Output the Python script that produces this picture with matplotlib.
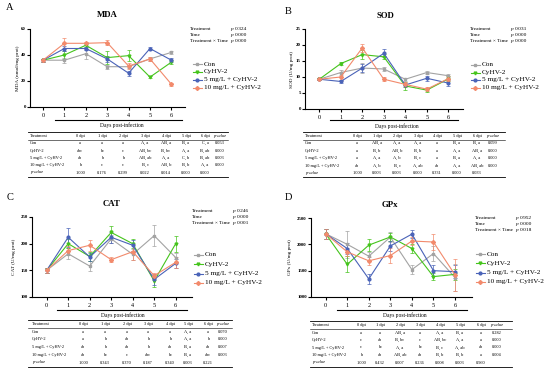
import matplotlib

matplotlib.use("Agg")
import matplotlib.pyplot as plt
from matplotlib.lines import Line2D

plt.rcParams["font.family"] = ["Liberation Serif", "DejaVu Serif"]

W, H = 550, 375

days = [0, 1, 2, 3, 4, 5, 6]
groups = ["Con", "CyHV-2", "5 mg/L + CyHV-2", "10 mg/L + CyHV-2"]

# MDA (nmol/mg prot)
mda_con = [36, 36, 41, 31, 31, 37, 42]
mda_cyhv = [36, 40, 47.5, 38, 39.5, 23, 34.5]
mda_5mg = [36, 45, 45, 37, 26, 45, 36]
mda_10mg = [36, 49, 49, 49.5, 31.5, 37, 17.5]
mda_err_con = [1, 2, 4, 1.5, 1, 1.5, 1]
mda_err_cyhv = [1, 3, 1.5, 5, 4, 1, 1.5]
mda_err_5mg = [1, 2, 1.5, 2, 2, 1.5, 1.5]
mda_err_10mg = [1, 4, 1, 2, 2, 1.5, 1]

# SOD (U/mg prot)
sod_con = [9.3, 11.4, 12.8, 12.5, 9.3, 11.4, 10.4]
sod_cyhv = [9.3, 14.2, 17.0, 16.3, 7.2, 5.9, 9.4]
sod_5mg = [9.3, 8.6, 12.8, 17.4, 7.5, 9.6, 8.1]
sod_10mg = [9.3, 10.0, 19.1, 9.3, 7.7, 6.2, 9.5]
sod_err_con = [0.3, 0.8, 1.5, 0.6, 0.5, 0.6, 0.5]
sod_err_cyhv = [0.3, 0.6, 1.5, 0.8, 1.2, 0.6, 0.8]
sod_err_5mg = [0.3, 0.5, 1.3, 1.2, 0.6, 0.7, 0.9]
sod_err_10mg = [0.3, 1.2, 1.2, 0.6, 0.8, 0.7, 0.8]

# CAT (U/mg prot)
cat_con = [150, 181, 158, 209, 180, 215, 174]
cat_cyhv = [150, 200, 176, 221, 200, 130, 200]
cat_5mg = [150, 212, 175, 212, 197, 133, 163]
cat_10mg = [150, 187, 197, 170, 185, 140, 165]
cat_err_con = [5, 10, 10, 8, 10, 20, 8]
cat_err_cyhv = [5, 8, 8, 12, 8, 12, 15]
cat_err_5mg = [5, 18, 8, 10, 10, 10, 8]
cat_err_10mg = [5, 8, 10, 5, 15, 5, 10]

# GPx (U/mg prot)
gpx_con = [2200, 2000, 1775, 2137, 1520, 1825, 1370]
gpx_cyhv = [2200, 1620, 1985, 2140, 1920, 1387, 1430]
gpx_5mg = [2200, 1920, 1344, 1969, 2194, 1500, 1481]
gpx_10mg = [2200, 1856, 1687, 1787, 2063, 2044, 1420]
gpx_err_con = [100, 250, 80, 100, 80, 150, 250]
gpx_err_cyhv = [100, 150, 120, 80, 80, 60, 100]
gpx_err_5mg = [100, 100, 100, 100, 80, 100, 120]
gpx_err_10mg = [100, 80, 80, 150, 80, 150, 300]

table_header = ["Treatment", "0 dpi", "1 dpi", "2 dpi", "3 dpi", "4 dpi", "5 dpi", "6 dpi", "p value"]

mda_table = [
    ["Con", "a", "a", "a", "A, a", "AB, a", "B, a", "C, a", "0.053"],
    ["CyHV-2", "abc", "bc", "c", "AB, bc", "B, bc", "A, a", "B, ab", "0.000"],
    ["5 mg/L + CyHV-2", "ab", "b", "b", "AB, ab", "A, a", "C, b", "B, ab", "0.003"],
    ["10 mg/L + CyHV-2", "b", "c", "c", "B, c", "AB, b", "B, b", "A, a", "0.000"],
    ["p value", "1.000", "0.176", "0.299", "0.022", "0.014", "0.000", "0.000", ""],
]
sod_table = [
    ["Con", "a", "AB, a", "A, a", "A, a", "a", "B, a", "B, a", "0.099"],
    ["CyHV-2", "a", "B, b", "AB, b", "B, b", "a", "A, a", "AB, a", "0.000"],
    ["5 mg/L + CyHV-2", "a", "A, a", "A, b", "B, c", "a", "B, a", "A, a", "0.000"],
    ["10 mg/L + CyHV-2", "ab", "A, b", "B, c", "A, ab", "ab", "A, a", "AB, ab", "0.000"],
    ["p value", "1.000", "0.003", "0.003", "0.000", "0.331", "0.000", "0.033", ""],
]
cat_table = [
    ["Con", "a", "a", "a", "a", "a", "A, a", "a", "0.070"],
    ["CyHV-2", "a", "b", "ab", "b", "b", "A, a", "b", "0.000"],
    ["5 mg/L + CyHV-2", "ab", "b", "ab", "b", "ab", "B, a", "ab", "0.007"],
    ["10 mg/L + CyHV-2", "ab", "bc", "c", "abc", "bc", "B, a", "abc", "0.003"],
    ["p value", "1.000", "0.343", "0.370", "0.187", "0.340", "0.003", "0.221", ""],
]
gpx_table = [
    ["Con", "a", "a", "AB, a", "a", "A, a", "B, a", "a", "0.282"],
    ["CyHV-2", "c", "ab", "B, bc", "c", "AB, bc", "A, a", "a", "0.000"],
    ["5 mg/L + CyHV-2", "c", "bc", "A, a", "bc", "B, c", "A, ab", "ab", "0.000"],
    ["10 mg/L + CyHV-2", "b", "ab", "AB, ab", "ab", "B, b", "B, b", "a", "0.004"],
    ["p value", "1.000", "0.432", "0.007", "0.236", "0.008", "0.003", "0.960", ""],
]

mda_p = ["0.324", "0.000", "0.000"]
sod_p = ["0.031", "0.000", "0.000"]
cat_p = ["0.246", "0.000", "0.001"]
gpx_p = ["0.952", "0.000", "0.018"]

colors = ["#a3a3a3", "#45c41c", "#4a63b8", "#f28a6c"]
markers = ["s", "v", "o", "D"]

panels = [
    dict(letter="A", title="MDA", ylabel="MDA (nmol/mg prot)",
         values=[mda_con, mda_cyhv, mda_5mg, mda_10mg],
         errors=[mda_err_con, mda_err_cyhv, mda_err_5mg, mda_err_10mg],
         table=mda_table, pvals=mda_p,
         ylim=(0, 60), yticks=[0, 20, 40, 60],
         rect=(30, 185, 29, 107), x0=43, dx=21.4,
         letter_xy=(10, 7), title_xy=(107, 15), ylabel_x=18,
         stats_xy=(190, 29), legend_xy=(197, 64), legend_dy=8,
         days_line=(55, 182, 120), days_xy=(122, 125),
         table_x=(28, 228), table_y=132, row_h=7.3,
         cols=[30, 80, 102, 123, 145, 166, 186, 205, 220]),
    dict(letter="B", title="SOD", ylabel="SOD (U/mg prot)",
         values=[sod_con, sod_cyhv, sod_5mg, sod_10mg],
         errors=[sod_err_con, sod_err_cyhv, sod_err_5mg, sod_err_10mg],
         table=sod_table, pvals=sod_p,
         ylim=(0, 25), yticks=[0, 5, 10, 15, 20, 25],
         rect=(305, 463, 29, 109), x0=319.3, dx=21.5,
         letter_xy=(288, 12), title_xy=(385, 16), ylabel_x=292,
         stats_xy=(470, 29), legend_xy=(475, 65), legend_dy=7.5,
         days_line=(330, 458, 120), days_xy=(397, 126),
         table_x=(303, 505), table_y=132, row_h=7.4,
         cols=[305, 357, 377, 397, 418, 437, 457, 477, 493]),
    dict(letter="C", title="CAT", ylabel="CAT (U/mg prot)",
         values=[cat_con, cat_cyhv, cat_5mg, cat_10mg],
         errors=[cat_err_con, cat_err_cyhv, cat_err_5mg, cat_err_10mg],
         table=cat_table, pvals=cat_p,
         ylim=(100, 250), yticks=[100, 150, 200, 250],
         rect=(32, 192, 217, 297), x0=46.7, dx=21.5,
         letter_xy=(10, 197), title_xy=(112, 204), ylabel_x=14,
         stats_xy=(192, 211), legend_xy=(198, 255), legend_dy=9.3,
         days_line=(57, 187, 310), days_xy=(123, 315),
         table_x=(28, 232), table_y=320, row_h=7.7,
         cols=[32, 83, 105, 127, 148, 170, 188, 208, 223]),
    dict(letter="D", title="GPx", ylabel="GPx (U/mg prot)",
         values=[gpx_con, gpx_cyhv, gpx_5mg, gpx_10mg],
         errors=[gpx_err_con, gpx_err_cyhv, gpx_err_5mg, gpx_err_10mg],
         table=gpx_table, pvals=gpx_p,
         ylim=(1000, 2500), yticks=[1000, 1500, 2000, 2500],
         rect=(311, 472, 218, 297), x0=325.7, dx=21.55,
         letter_xy=(288, 198), title_xy=(390, 205), ylabel_x=290,
         stats_xy=(475, 218), legend_xy=(480, 254), legend_dy=9.3,
         days_line=(337, 467, 310), days_xy=(405, 315),
         table_x=(310, 512), table_y=321, row_h=7.5,
         cols=[312, 361, 380, 400, 420, 440, 460, 481, 497]),
]


def fx(x):
    return x / W


def fy(y):
    return 1 - y / H


def hline(fig, x1, x2, y, lw=0.5):
    fig.add_artist(Line2D([fx(x1), fx(x2)], [fy(y), fy(y)], color="black", lw=lw,
                          transform=fig.transFigure))


fig = plt.figure(figsize=(W / 100, H / 100), dpi=100)

for p in panels:
    left, right, top, bottom = p["rect"]
    ax = fig.add_axes([fx(left), fy(bottom), (right - left) / W, (bottom - top) / H])
    for vals, errs, color, marker, name in zip(p["values"], p["errors"], colors, markers, groups):
        ax.errorbar(days, vals, yerr=errs, color=color, ecolor=color, marker=marker,
                    markersize=2, linewidth=0.8, elinewidth=0.5, capsize=1.2,
                    capthick=0.5, label=name)
    ax.set_xlim((left - p["x0"]) / p["dx"], (right - p["x0"]) / p["dx"])
    ax.set_ylim(*p["ylim"])
    ax.set_xticks(days)
    ax.set_yticks(p["yticks"])
    ax.tick_params(axis="x", labelsize=4.5, length=2, width=0.8, pad=2)
    ax.tick_params(axis="y", labelsize=3.5, length=2, width=0.8, pad=1)
    for lab in ax.get_yticklabels():
        lab.set_fontweight("bold")
    ax.spines["top"].set_visible(False)
    ax.spines["right"].set_visible(False)
    ax.spines["left"].set_linewidth(0.8)
    ax.spines["bottom"].set_linewidth(0.8)
    ax.patch.set_alpha(0)

    fig.text(fx(p["letter_xy"][0]), fy(p["letter_xy"][1]), p["letter"], fontsize=7.5,
             ha="center", va="center")
    fig.text(fx(p["title_xy"][0]), fy(p["title_xy"][1]), p["title"], fontsize=6.3,
             fontweight="bold", ha="center", va="center")
    fig.text(fx(p["ylabel_x"]), fy((top + bottom) / 2), p["ylabel"], fontsize=3.8,
             rotation=90, ha="center", va="center")

    # two-way ANOVA summary
    sx, sy = p["stats_xy"]
    for i, lab in enumerate(["Treatment", "Time", "Treatment \u00d7 Time"]):
        yy = sy + i * 6
        fig.text(fx(sx), fy(yy), lab, fontsize=3.9, ha="left", va="center")
        fig.text(fx(sx + 40), fy(yy), "p", fontsize=3.9, style="italic", ha="left", va="center")
        fig.text(fx(sx + 45), fy(yy), p["pvals"][i], fontsize=3.9, ha="left", va="center")

    # legend
    lx, ly = p["legend_xy"]
    for i, (color, marker, name) in enumerate(zip(colors, markers, groups)):
        yy = ly + i * p["legend_dy"]
        fig.add_artist(Line2D([fx(lx - 4.5), fx(lx + 4.5)], [fy(yy), fy(yy)], color=color,
                              lw=0.8, transform=fig.transFigure))
        fig.add_artist(Line2D([fx(lx)], [fy(yy)], color=color, marker=marker, markersize=2,
                              transform=fig.transFigure))
        fig.text(fx(lx + 7), fy(yy), name, fontsize=5.2, ha="left", va="center")

    # days post-infection bar
    d1, d2, dy = p["days_line"]
    hline(fig, d1, d2, dy, lw=0.8)
    fig.text(fx(p["days_xy"][0]), fy(p["days_xy"][1]), "Days post-infection", fontsize=4,
             ha="center", va="center")

    # table
    tx1, tx2 = p["table_x"]
    ty = p["table_y"]
    rh = p["row_h"]
    hline(fig, tx1, tx2, ty, lw=0.6)
    hline(fig, tx1, tx2, ty + rh + 0.5, lw=0.4)
    hline(fig, tx1, tx2, ty + 6 * rh + 1, lw=0.6)
    rows = [table_header] + p["table"]
    for r, row in enumerate(rows):
        yy = ty + 4 + r * rh
        for c, cell in enumerate(row):
            if c == 0:
                fig.text(fx(p["cols"][0]), fy(yy), cell, fontsize=3.2, ha="left", va="center",
                         style="italic" if cell == "p value" else "normal")
            else:
                fig.text(fx(p["cols"][c]), fy(yy), cell, fontsize=3.2, ha="center",
                         va="center", style="italic" if cell == "p value" else "normal")

fig.savefig("out.png", dpi=100)
